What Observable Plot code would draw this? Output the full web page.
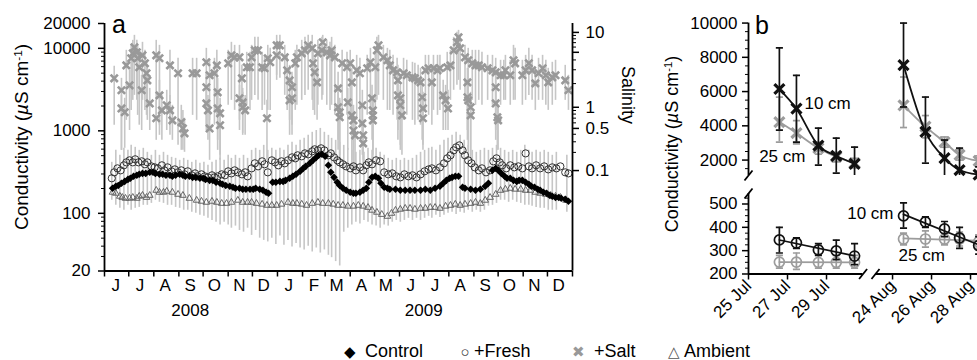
<!DOCTYPE html>
<html><head><meta charset="utf-8">
<script src="https://cdn.jsdelivr.net/npm/d3@7"></script>
<script src="https://cdn.jsdelivr.net/npm/@observablehq/plot@0.6"></script>
<style>
html,body{margin:0;padding:0;background:#fff;}
#chart{position:relative;width:977px;height:360px;overflow:hidden;font-family:"Liberation Sans",Arial,Helvetica,sans-serif;color:#000;background:#fff;}
.t{position:absolute;white-space:nowrap;line-height:1;}
.rot{transform:translate(-50%,-50%) rotate(-90deg);}
.rotr{transform:translate(-50%,-50%) rotate(90deg);}
sup{font-size:0.62em;position:relative;top:-0.5em;vertical-align:baseline;line-height:0;}
</style></head><body><div id="chart"></div><script>
// ---------------- DATA: panel a (day = days since 1 Jun 2008) ----------------
const control = [[10,201],[14,213],[17,218],[21,231],[25,244],[29,258],[32,266],[36,281],[40,289],[43,297],[47,305],[51,305],[56,314],[60,314],[63,305],[68,297],[72,297],[76,289],[81,289],[84,281],[88,289],[93,297],[97,289],[100,281],[105,281],[109,273],[113,273],[118,266],[122,266],[125,258],[130,251],[134,251],[138,238],[143,231],[146,225],[150,218],[155,213],[159,207],[162,201],[167,201],[171,196],[175,196],[180,196],[184,196],[187,201],[192,196],[196,190],[200,180],[203,175],[208,238],[212,238],[217,244],[221,244],[224,251],[229,266],[233,281],[237,297],[242,323],[246,351],[249,371],[254,404],[258,439],[262,477],[265,505],[269,519],[273,491],[277,382],[280,314],[284,273],[288,238],[291,218],[295,201],[299,190],[304,180],[308,175],[311,175],[316,180],[320,190],[324,201],[327,238],[331,273],[335,281],[339,266],[342,231],[346,207],[350,201],[353,196],[360,196],[366,190],[372,190],[378,190],[384,190],[391,190],[397,196],[403,190],[409,201],[415,213],[419,231],[423,251],[427,266],[430,273],[434,281],[438,281],[443,207],[446,201],[453,196],[459,190],[465,196],[471,213],[475,231],[480,332],[484,351],[487,332],[491,305],[495,281],[498,266],[502,266],[506,251],[510,244],[513,251],[517,251],[521,238],[525,225],[528,213],[532,207],[536,196],[539,190],[543,180],[547,175],[551,165],[554,161],[558,156],[562,156],[565,152],[570,148],[574,140]];
const fresh = [[9,266],[12,314],[16,351],[20,332],[24,382],[27,415],[31,439],[35,415],[38,452],[42,415],[46,427],[50,393],[53,415],[58,371],[62,361],[66,351],[71,382],[74,332],[78,361],[83,323],[87,341],[91,314],[95,332],[99,297],[103,323],[108,289],[112,305],[115,281],[120,297],[124,281],[128,273],[133,289],[136,273],[140,281],[145,297],[149,289],[153,323],[157,305],[161,332],[165,314],[170,297],[174,314],[177,281],[182,351],[186,404],[190,371],[195,427],[198,393],[202,314],[207,439],[211,415],[215,382],[219,427],[223,404],[227,439],[232,477],[236,464],[239,505],[244,491],[248,533],[252,519],[257,565],[260,597],[264,580],[268,614],[272,580],[277,505],[280,533],[284,477],[288,439],[291,415],[295,393],[299,371],[304,351],[308,371],[311,332],[316,361],[320,332],[324,382],[327,415],[331,393],[336,439],[341,427],[346,314],[351,297],[356,305],[361,281],[366,273],[371,297],[376,281],[381,289],[386,273],[391,297],[396,323],[401,341],[405,351],[410,332],[415,361],[420,404],[424,464],[428,505],[432,580],[435,631],[439,667],[443,580],[446,505],[450,439],[454,404],[458,361],[463,332],[467,351],[472,314],[477,332],[481,427],[485,464],[489,415],[492,382],[497,351],[502,382],[507,361],[512,371],[517,351],[521,533],[525,371],[529,351],[534,382],[539,351],[544,371],[549,341],[554,361],[559,351],[564,371],[570,314],[574,305]];
const ambient = [[10,180],[14,175],[19,161],[22,156],[26,152],[31,152],[35,156],[40,152],[43,161],[47,165],[52,156],[56,165],[64,190],[68,180],[73,180],[77,185],[84,180],[91,170],[97,165],[105,152],[114,144],[120,140],[126,136],[133,140],[139,136],[145,132],[151,132],[157,136],[165,144],[171,136],[177,136],[182,136],[188,132],[195,129],[201,125],[207,125],[213,125],[219,129],[227,136],[233,132],[238,132],[244,129],[250,125],[257,132],[264,136],[270,132],[277,132],[283,129],[289,125],[295,125],[301,122],[308,122],[314,125],[320,122],[326,118],[331,109],[337,103],[343,97],[350,92],[355,100],[360,109],[366,112],[372,115],[378,115],[384,112],[391,115],[397,115],[403,118],[409,118],[415,115],[422,122],[428,125],[434,129],[440,125],[446,129],[453,132],[459,136],[465,132],[471,144],[477,156],[484,170],[490,190],[496,196],[502,201],[508,196],[515,196],[521,190],[527,190],[533,180],[539,175],[546,170],[552,165],[558,161],[564,156],[571,144]];
// +Salt: [day, mean, lower, upper]
const salt = [[12,4330,1170,6050],[21,3100,580,4330],[21,1870,580,2690],[25,1680,614,2480],[27,6220,1340,9460],[31,3560,1010,5410],[33,7570,1770,10870],[35,8700,2340,12500],[37,10280,2690,14370],[40,8945,2340,12500],[41,7570,1540,10870],[43,5890,1170,8945],[46,3100,1010,4710],[47,8225,2340,11830],[50,6580,1770,9460],[52,4980,1540,7160],[53,4090,1340,5730],[56,2150,1010,3270],[64,8225,1340,12500],[64,1420,767,2340],[68,7570,1170,10870],[68,2690,882,4090],[71,1770,767,2690],[77,2040,1010,3100],[81,1770,882,2690],[81,6220,1340,9460],[84,1340,767,2040],[91,4980,667,7570],[95,1270,580,2040],[97,1070,580,1770],[99,933,549,1420],[109,4980,1540,7570],[114,4980,1340,7570],[126,6770,2040,10000],[126,3370,1170,5120],[126,2150,1010,3270],[128,1770,767,2690],[130,1070,439,1680],[130,4710,1340,7160],[136,4980,1170,7570],[139,6220,1540,9460],[140,2930,767,4330],[140,1870,580,2690],[143,1630,505,2480],[143,1170,439,1770],[153,6580,2040,9460],[157,8225,2340,11830],[161,7780,1770,10870],[167,7780,1340,10870],[170,4330,1770,6220],[167,2480,1010,3560],[171,2210,933,3270],[171,1930,882,2930],[174,1770,882,2690],[176,5890,2040,8945],[180,5890,1770,8945],[182,7780,2340,10870],[186,9460,2690,13590],[190,9460,2340,13590],[195,5890,1770,8945],[198,5730,2040,8225],[201,1420,439,2340],[202,7570,1770,10870],[205,6770,1770,10000],[213,10870,4710,14370],[217,10870,4330,14370],[213,8225,4090,11830],[223,7780,2690,10870],[226,5410,1770,8225],[229,4090,1340,6220],[232,3370,1170,5120],[232,2480,882,3560],[229,2340,882,3560],[236,6580,1770,9460],[238,7780,2040,10870],[244,8700,2340,12500],[248,9460,2690,13590],[252,10870,3100,14370],[257,10000,2340,14370],[258,6580,1770,9460],[260,5120,1540,7570],[263,3870,1340,5730],[264,8700,2040,12500],[269,9460,2340,13590],[270,11830,2690,14370],[275,8945,2040,12500],[279,8225,1770,11830],[281,9460,2040,13590],[285,7780,1540,10870],[289,3270,767,5120],[289,1930,580,2930],[291,1680,505,2480],[291,1460,439,2340],[294,6580,1340,9460],[300,5890,1540,8945],[304,6580,1340,9460],[301,2210,580,3270],[306,3870,767,5730],[306,1540,439,2340],[308,1340,382,2040],[308,1010,351,1540],[310,882,332,1340],[312,5410,1340,8225],[316,4980,1170,7570],[319,2040,667,3100],[319,1230,505,1870],[320,882,439,1340],[320,705,382,1170],[325,5730,1540,8225],[329,6770,1770,10000],[331,2480,767,3560],[332,1770,580,2690],[332,1540,505,2340],[332,1340,439,2340],[335,5890,1770,8945],[337,9460,2340,13590],[339,10870,2690,14370],[345,7780,2340,10870],[350,7160,1770,10000],[353,6220,1770,9460],[357,5410,1540,8225],[362,5120,1340,7570],[363,4090,1010,6220],[363,2690,767,4090],[366,2480,667,3560],[366,2040,580,3100],[368,1540,505,2340],[370,4980,1340,7570],[374,4710,1540,7160],[381,4450,1340,6770],[384,4330,1170,6580],[388,4090,1340,6220],[391,3870,1170,5730],[393,2550,767,3560],[394,1870,667,2930],[394,1420,580,2340],[397,5410,1770,8225],[401,5730,1540,8225],[405,3870,1170,5730],[407,5730,1770,8225],[412,5410,1540,8225],[415,5730,1770,8225],[419,2690,1010,4090],[422,2340,1010,3560],[424,5890,2040,8945],[425,1870,1010,3100],[428,6220,2340,9460],[432,9460,3100,13590],[436,11830,3560,15640],[438,13590,4090,16520],[440,10000,3100,14370],[446,7780,2340,10870],[450,7160,2040,10000],[449,3870,1010,5730],[449,2550,767,3870],[450,2340,580,3560],[453,1930,505,2930],[453,1540,439,2340],[455,6580,2340,9460],[459,6220,2040,9460],[463,6220,2340,9460],[467,5890,2040,8945],[474,5730,2340,8225],[480,5410,2040,8225],[484,5120,1770,7570],[484,3370,1010,5120],[484,2150,767,3270],[486,1460,580,2340],[487,1340,580,2040],[490,4710,2040,7160],[494,4710,2340,7160],[496,5410,2340,8225],[502,4710,2040,7160],[506,7160,2340,10870],[508,6580,2340,10000],[517,4710,2040,7160],[521,5410,2340,8225],[525,6580,2690,10000],[529,5410,2340,8225],[533,3760,1770,5730],[537,4980,2340,7570],[542,5730,2340,8225],[546,4710,2040,7160],[549,3870,1770,5730],[554,4450,2040,6770],[558,4710,2340,7160],[570,4090,2340,6220],[574,3100,1770,4710]];
// grey error bars of the Control / +Fresh / Ambient group: [day, lower, upper]
const lowBars = [[9,144,415],[14,125,580],[19,115,505],[24,109,614],[29,125,580],[33,109,667],[38,115,631],[43,118,580],[48,125,614],[53,125,549],[58,132,505],[63,144,580],[68,136,505],[73,132,549],[78,125,505],[83,125,477],[88,118,464],[93,115,439],[98,109,464],[103,109,439],[108,103,415],[113,100,439],[118,95,404],[123,92,415],[128,87,382],[133,82,415],[138,78,439],[143,72,464],[148,78,439],[153,72,505],[157,66,464],[162,70,505],[167,62,464],[172,59,505],[177,66,464],[182,54,580],[187,62,614],[192,50,580],[197,47,667],[202,45,580],[207,50,614],[212,42,580],[217,53,614],[222,41,580],[227,47,667],[232,39,726],[237,43,667],[242,38,767],[247,36,811],[252,40,882],[257,34,960],[262,38,1010],[267,33,1070],[272,36,960],[277,31,882],[281,29,811],[286,26,767],[291,23,726],[296,59,667],[301,66,614],[306,72,580],[311,78,549],[316,74,580],[321,82,549],[326,78,614],[331,72,580],[336,70,614],[341,66,549],[346,72,505],[351,70,464],[356,78,439],[361,82,464],[366,78,439],[371,82,464],[376,87,439],[381,82,464],[386,87,505],[391,82,549],[396,87,580],[401,92,614],[405,87,631],[410,95,580],[415,89,667],[420,95,767],[425,100,811],[430,103,882],[435,97,960],[440,103,882],[445,100,767],[450,109,667],[455,103,580],[460,109,549],[465,103,580],[470,109,614],[475,122,580],[480,125,614],[485,132,667],[490,144,614],[495,144,580],[500,136,549],[505,144,580],[510,136,549],[515,132,580],[520,125,667],[525,125,580],[529,122,549],[534,118,580],[539,115,549],[544,115,580],[549,109,549],[554,109,505],[559,109,549],[572,103,505]];
const monthLetters = ["J","J","A","S","O","N","D","J","F","M","A","M","J","J","A","S","O","N","D"];
const yearLabels = ["2008","2009"];
const yearCenters = ["2008-09-15","2009-07-01"];
const condTicks = [20,100,1000,10000,20000];
const salinityLabels = ["10","5","1","0.5","0.1"];
const salinityValues = [10,5,1,0.5,0.1];
const salinityCond = [15600,8950,1930,1070,330];
const salinityMinor = [9,8,7,6,4,3,2,0.9,0.8,0.7,0.6,0.4,0.3,0.2];
// ---------------- DATA: panel b ----------------
const julTimes = ["2009-07-26T14:00Z","2009-07-27T11:00Z","2009-07-28T14:00Z","2009-07-29T12:00Z","2009-07-30T10:30Z"];
const augTimes = ["2009-08-24T13:30Z","2009-08-25T16:30Z","2009-08-26T16:00Z","2009-08-27T10:30Z","2009-08-28T10:00Z"];
// +Salt (top), [mean, lower, upper]
const salt10Jul = [[6150,3750,8550],[5000,3050,6950],[2850,1710,3870],[2250,1240,3285],[1780,950,2760]];
const salt25Jul = [[4220,3050,5680],[3580,2950,4300],[2700,2350,3050],[2180,1900,2450],[1830,1550,2100]];
const salt10Aug = [[7550,5100,10000],[3650,1820,5680],[2120,1000,3170],[1420,900,2700],[1150,800,1600]];
const salt25Aug = [[5200,3900,6850],[3950,3300,4600],[3050,2750,3350],[2300,2000,2600],[1950,1650,2250]];
// +Fresh (bottom)
const fresh10Jul = [[346,290,400],[333,310,355],[303,280,330],[299,262,345],[277,240,330]];
const fresh25Jul = [[251,225,280],[251,220,290],[250,225,285],[250,225,280],[250,225,280]];
const fresh10Aug = [[449,397,505],[423,400,445],[393,360,425],[355,310,400],[322,285,360]];
const fresh25Aug = [[350,325,375],[350,315,385],[350,325,375],[350,320,380],[338,310,368]];
const julTicks = ["2009-07-25","2009-07-27","2009-07-29"];
const augTicks = ["2009-08-24","2009-08-26","2009-08-28"];
const topTicks = [2000,4000,6000,8000,10000];
const botTicks = [200,300,400,500];

// ---------------- BUILD ----------------
const F = '"Liberation Sans", Arial, Helvetica, sans-serif';
const chart = document.getElementById("chart");
function place(svg, left, top) {
  svg.style.position = "absolute"; svg.style.left = left + "px"; svg.style.top = top + "px";
  svg.style.overflow = "visible"; svg.style.maxWidth = "none"; svg.style.background = "transparent";
  chart.appendChild(svg);
}
function html(text, left, top, size, cls = "", extra = "") {
  const d = document.createElement("div");
  d.className = "t " + cls; d.innerHTML = text;
  d.style.cssText += `left:${left}px;top:${top}px;font-size:${size}px;${extra}`;
  chart.appendChild(d);
}
const startA = new Date("2008-06-01T00:00:00Z");
const endA = new Date("2010-01-01T00:00:00Z");
const dayToDate = d => new Date(startA.getTime() + d * 864e5);
const rows2 = a => a.map(([d, v]) => ({date: dayToDate(d), v}));
const controlR = rows2(control), freshR = rows2(fresh), ambientR = rows2(ambient);
const saltR = salt.map(([d, v, lo, hi]) => ({date: dayToDate(d), v, lo, hi}));
const lowBarR = lowBars.map(([d, lo, hi]) => ({date: dayToDate(d), lo, hi}));
const monthStarts = d3.utcMonth.range(startA, d3.utcDay.offset(endA, 1));
const monthMids = d3.utcMonth.range(startA, endA).map(m => d3.utcDay.offset(m, 14));
const condMinor = [];
for (const dec of [10, 100, 1000, 10000]) for (let k = 2; k <= 9; k++) { const v = k * dec; if (v > 20 && v < 20000 && v !== 100 && v !== 1000 && v !== 10000) condMinor.push(v); }
const salInterp = d3.scaleLinear().domain(salinityValues.map(Math.log10)).range(salinityCond.map(Math.log10));
const salMinorCond = salinityMinor.map(s => 10 ** salInterp(Math.log10(s)));
const salLabelMap = new Map(salinityCond.map((c, i) => [c, salinityLabels[i]]));
const AX = "#000";

const W = 650, H = 330, FL = 104, FR = 572, FT = 23, FB = 270.5;
const plotA = Plot.plot({
  width: W, height: H, marginLeft: FL, marginRight: W - FR, marginTop: FT, marginBottom: H - FB,
  x: {type: "utc", domain: [startA, endA], label: null},
  y: {type: "log", domain: [20, 20000], label: null},
  style: {fontFamily: F, background: "transparent", overflow: "visible"},
  marks: [
    Plot.ruleX(lowBarR, {x: "date", y1: "lo", y2: "hi", stroke: "#c6c6c6", strokeWidth: 1.6}),
    Plot.ruleX(saltR, {x: "date", y1: "lo", y2: "hi", stroke: "#c6c6c6", strokeWidth: 1.6}),
    Plot.dot(ambientR, {x: "date", y: "v", symbol: "triangle2", r: 3.2, stroke: "#666", strokeWidth: 1, fill: "none"}),
    Plot.dot(freshR, {x: "date", y: "v", symbol: "circle", r: 3.6, stroke: "#333", strokeWidth: 1, fill: "none"}),
    Plot.dot(controlR, {x: "date", y: "v", symbol: "diamond2", r: 3.4, fill: "#000", stroke: "none"}),
    Plot.dot(saltR, {x: "date", y: "v", symbol: "times", r: 3.4, stroke: "#999", strokeWidth: 2.6, fill: "none"}),
    Plot.ruleX([startA], {stroke: AX, strokeWidth: 1.8}),
    Plot.ruleX([endA], {stroke: AX, strokeWidth: 1.8}),
    Plot.ruleY([20], {stroke: AX, strokeWidth: 1.8}),
    Plot.axisY({ticks: condTicks, tickFormat: d => String(d), tickSize: 6, tickPadding: 8, fontSize: 17, strokeWidth: 1.5, label: null}),
    Plot.axisY({ticks: condMinor, tickSize: 3, tickFormat: () => "", strokeWidth: 1, label: null}),
    Plot.axisY({anchor: "right", ticks: salinityCond, tickFormat: d => salLabelMap.get(d), tickSize: 6, tickPadding: 7, fontSize: 17, strokeWidth: 1.5, label: null}),
    Plot.axisY({anchor: "right", ticks: salMinorCond, tickSize: 3, tickFormat: () => "", strokeWidth: 1, label: null}),
    Plot.axisX({ticks: monthStarts, tickSize: 6, tickFormat: () => "", strokeWidth: 1.5, label: null}),
    Plot.text(monthMids, {x: d => d, text: (d, i) => monthLetters[i], frameAnchor: "bottom", dy: 20, fontSize: 17}),
    Plot.text(yearCenters, {x: d => new Date(d + "T00:00Z"), text: (d, i) => yearLabels[i], frameAnchor: "bottom", dy: 45, fontSize: 17})
  ]
});
place(plotA, 0, 0);

// ---------------- panel b ----------------
const capSym = {draw(ctx, size) { const w = Math.sqrt(size); ctx.moveTo(-w, 0); ctx.lineTo(w, 0); }};
const slashSym = {draw(ctx) { ctx.moveTo(-4, 5); ctx.lineTo(4, -5); }};
const xL = [new Date("2009-07-25T00:00Z"), new Date("2009-07-30T21:00Z")];
const xR = [new Date("2009-08-23T03:00Z"), new Date("2009-08-30T00:00Z")];
const yTop = [1100, 10150], yBot = [200, 545];
const PXL = [748, 862.6], PXR = [875, 1009];
const PYT = [20.4, 175.4], PYB = [192.5, 273];
const mk = (times, arr) => arr.map(([v, lo, hi], i) => ({date: new Date(times[i]), v, lo, hi}));
const s10J = mk(julTimes, salt10Jul), s25J = mk(julTimes, salt25Jul), s10A = mk(augTimes, salt10Aug), s25A = mk(augTimes, salt25Aug);
const f10J = mk(julTimes, fresh10Jul), f25J = mk(julTimes, fresh25Jul), f10A = mk(augTimes, fresh10Aug), f25A = mk(augTimes, fresh25Aug);
const BLK = "#111", GRY = "#9c9c9c";
function errMarks(rows, color) {
  return [
    Plot.ruleX(rows, {x: "date", y1: "lo", y2: "hi", stroke: color, strokeWidth: 1.7, clip: true}),
    Plot.dot(rows, {x: "date", y: "lo", symbol: capSym, r: 2, stroke: color, strokeWidth: 1.7, fill: "none", clip: true}),
    Plot.dot(rows, {x: "date", y: "hi", symbol: capSym, r: 2, stroke: color, strokeWidth: 1.7, fill: "none", clip: true})
  ];
}
function saltSeries(rows, color) {
  return [...errMarks(rows, color),
    Plot.line(rows, {x: "date", y: "v", curve: "monotone-x", stroke: color, strokeWidth: 1.8}),
    Plot.dot(rows, {x: "date", y: "v", symbol: "times", r: 4.6, stroke: color, strokeWidth: 3.2, fill: "none"})];
}
function freshSeries(rows, color) {
  return [...errMarks(rows, color),
    Plot.linearRegressionY(rows, {x: "date", y: "v", stroke: color, strokeWidth: 1.7, ci: 0}),
    Plot.dot(rows, {x: "date", y: "v", symbol: "circle", r: 5, stroke: color, strokeWidth: 1.7, fill: "none"})];
}
function sub(px, py, xd, yd, opts, marks) {
  const m = {l: 100, r: 20, t: 12, b: 75};
  const svg = Plot.plot({
    width: px[1] - px[0] + m.l + m.r, height: py[1] - py[0] + m.t + m.b,
    marginLeft: m.l, marginRight: m.r, marginTop: m.t, marginBottom: m.b,
    x: {type: "utc", domain: xd, label: null, ...(opts.x || {})},
    y: {domain: yd, label: null, ...(opts.y || {})},
    style: {fontFamily: F, background: "transparent", overflow: "visible"},
    marks
  });
  place(svg, px[0] - m.l, py[0] - m.t);
}
const topMinor = d3.range(1500, 10001, 500).filter(v => !topTicks.includes(v));
const botMinor = d3.range(225, 545, 25).filter(v => !botTicks.includes(v));
const dateFmt = d3.utcFormat("%-d %b");
const brk = (x, y) => Plot.dot([{x, y}], {x: "x", y: "y", symbol: slashSym, stroke: AX, strokeWidth: 1.8, fill: "none"});

// top-left
sub(PXL, PYT, xL, yTop, {x: {axis: null}}, [
  Plot.ruleX([xL[0]], {y1: yTop[0], y2: topTicks[topTicks.length - 1], stroke: AX, strokeWidth: 1.8}),
  Plot.axisY({ticks: topTicks, tickSize: 6, tickPadding: 5, fontSize: 17, strokeWidth: 1.5, label: null, tickFormat: d => String(d)}),
  Plot.axisY({ticks: topMinor, tickSize: 3, tickFormat: () => "", strokeWidth: 1, label: null}),
  ...saltSeries(s25J, GRY), ...saltSeries(s10J, BLK),
  Plot.text([s10J[1]], {x: "date", y: "v", text: () => "10 cm", dx: 8, dy: -5, textAnchor: "start", fontSize: 17}),
  Plot.text([s25J[2]], {x: "date", y: "v", text: () => "25 cm", dx: -13, dy: 8, textAnchor: "end", fontSize: 17}),
  brk(xL[0], yTop[0])
]);
// top-right
sub(PXR, PYT, xR, yTop, {x: {axis: null}, y: {axis: null}}, [
  ...saltSeries(s25A, GRY), ...saltSeries(s10A, BLK)
]);
// bottom-left
sub(PXL, PYB, xL, yBot, {}, [
  Plot.ruleX([xL[0]], {stroke: AX, strokeWidth: 1.8}),
  Plot.ruleY([yBot[0]], {stroke: AX, strokeWidth: 1.8}),
  Plot.axisY({ticks: botTicks, tickSize: 6, tickPadding: 5, fontSize: 17, strokeWidth: 1.5, label: null, tickFormat: d => String(d)}),
  Plot.axisY({ticks: botMinor, tickSize: 3, tickFormat: () => "", strokeWidth: 1, label: null}),
  Plot.axisX({ticks: julTicks.map(d => new Date(d)), tickFormat: dateFmt, tickRotate: -45, tickSize: 6, tickPadding: 3, fontSize: 17, strokeWidth: 1.5, label: null}),
  ...freshSeries(f25J, GRY), ...freshSeries(f10J, BLK),
  brk(xL[0], yBot[1]), brk(xL[1], yBot[0])
]);
// bottom-right
sub(PXR, PYB, xR, yBot, {y: {axis: null}}, [
  Plot.ruleY([yBot[0]], {stroke: AX, strokeWidth: 1.8}),
  Plot.axisX({ticks: augTicks.map(d => new Date(d)), tickFormat: dateFmt, tickRotate: -45, tickSize: 6, tickPadding: 3, fontSize: 17, strokeWidth: 1.5, label: null}),
  ...freshSeries(f25A, GRY), ...freshSeries(f10A, BLK),
  Plot.text([f10A[0]], {x: "date", y: "v", text: () => "10 cm", dx: -10, dy: -2, textAnchor: "end", fontSize: 17}),
  Plot.text([f25A[0]], {x: "date", y: "v", text: () => "25 cm", dx: -5, dy: 17, textAnchor: "start", fontSize: 17}),
  brk(xR[0], yBot[0])
]);

// ---------------- text ----------------
html("a", 112, 12, 25);
html("b", 755, 13, 25);
html('Conductivity (<i>µ</i>S cm<sup>-1</sup>)', 21, 137, 19, "rot");
html('Salinity', 628, 95, 18, "rotr");
html('Conductivity (<i>µ</i>S cm<sup>-1</sup>)', 672, 144, 18, "rot");
// legend
const legend = [["◆", "#000", 350, "Control", 365], ["○", "#333", 465, "+Fresh", 474], ["✖", "#999", 578, "+Salt", 594], ["△", "#555", 674, "Ambient", 684]];
for (const [sym, col, sx, lab, lx] of legend) {
  html(sym, sx, 342, 15, "", `color:${col};transform:translateX(-50%);top:344px;`);
  html(lab, lx, 342, 18);
}
</script></body></html>
